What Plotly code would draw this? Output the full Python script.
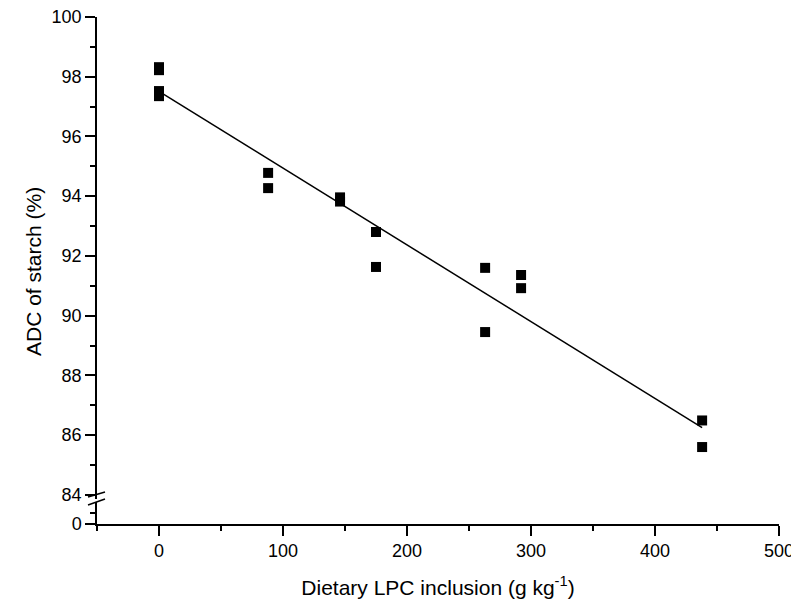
import numpy as np
import plotly.graph_objects as go

# Data
lpc = [0, 0, 0, 0, 88, 88, 146, 146, 175, 175, 263, 263, 292, 292, 438, 438]
adc = [98.32, 98.22, 97.52, 97.35, 94.78, 94.27, 93.96, 93.82, 92.80, 91.63,
       91.60, 89.45, 91.36, 90.92, 86.49, 85.60]
x_ticks = [0, 100, 200, 300, 400, 500]
y_ticks_upper = [84, 86, 88, 90, 92, 94, 96, 98, 100]
y_ticks_lower = [0]

slope, intercept = np.polyfit(lpc, adc, 1)
fit_x = [min(lpc), max(lpc)]
fit_y = [intercept + slope * v for v in fit_x]

OFF = 8  # page body margin
W, H = 791, 602
PL, PR, PT, PB = 97, 779, 17, 524  # plot box in page pixels
L, T = PL - OFF, PT - OFF
R = W + OFF - PR
B = H + OFF - PB
pw, ph = PR - PL, PB - PT

def py(pix):
    return (PB - pix) / ph

def px(pix):
    return (pix - PL) / pw

FAM = "Arial, Liberation Sans, sans-serif"
font = dict(family=FAM, size=18, color="black")
title_font = dict(family=FAM, size=21, color="black")

fig = go.Figure()
# keeps the lower (broken-off) axis segment alive
fig.add_trace(go.Scatter(x=[None], y=[None], xaxis="x", yaxis="y", mode="markers",
                         showlegend=False, hoverinfo="skip"))
fig.add_trace(go.Scatter(x=fit_x, y=fit_y, mode="lines", xaxis="x", yaxis="y2",
                         line=dict(color="black", width=1.5), showlegend=False))
fig.add_trace(go.Scatter(x=lpc, y=adc, mode="markers", xaxis="x", yaxis="y2",
                         marker=dict(symbol="square", size=10, color="black",
                                     line=dict(width=0)), showlegend=False))

upper_bottom = py(499)
lower_top = py(502)

axis_common = dict(showgrid=False, zeroline=False, showline=True, linecolor="black",
                   linewidth=1.5, ticks="outside", ticklen=10, tickwidth=1.5,
                   tickcolor="black", tickfont=font, automargin=False,
                   ticklabeloverflow="allow")

fig.update_layout(
    width=W, height=H,
    margin=dict(l=L, r=R, t=T, b=B),
    paper_bgcolor="white", plot_bgcolor="white",
    xaxis=dict(range=[-50, 500], tickvals=x_ticks, anchor="y",
               minor=dict(tickvals=[-50, 50, 150, 250, 350, 450], ticklen=5,
                          tickwidth=1.5, tickcolor="black", ticks="outside"),
               title=dict(text="Dietary LPC inclusion (g kg<sup>-1</sup>)",
                          font=title_font, standoff=20),
               **axis_common),
    yaxis=dict(range=[0, 2], domain=[0, lower_top], tickvals=y_ticks_lower,
               ticktext=["0"], anchor="x",
               minor=dict(tickvals=[1], ticklen=5, tickwidth=1.5,
                          tickcolor="black", ticks="outside"),
               **axis_common),
    yaxis2=dict(range=[83.86, 100], domain=[upper_bottom, 1], tickvals=y_ticks_upper,
                anchor="x",
                minor=dict(dtick=1, ticklen=5, tickwidth=1.5,
                           tickcolor="black", ticks="outside"),
                **axis_common),
)

fig.add_annotation(text="ADC of starch (%)", xref="paper", yref="paper",
                   x=px(33), y=py(272), textangle=-90, showarrow=False,
                   font=title_font, xanchor="center", yanchor="middle")

# axis-break marks
for y0, y1 in [(497, 492), (505, 499)]:
    fig.add_shape(type="line", xref="paper", yref="paper",
                  x0=px(88), x1=px(105), y0=py(y0), y1=py(y1),
                  line=dict(color="black", width=1.5))

fig.write_html("out.html")
